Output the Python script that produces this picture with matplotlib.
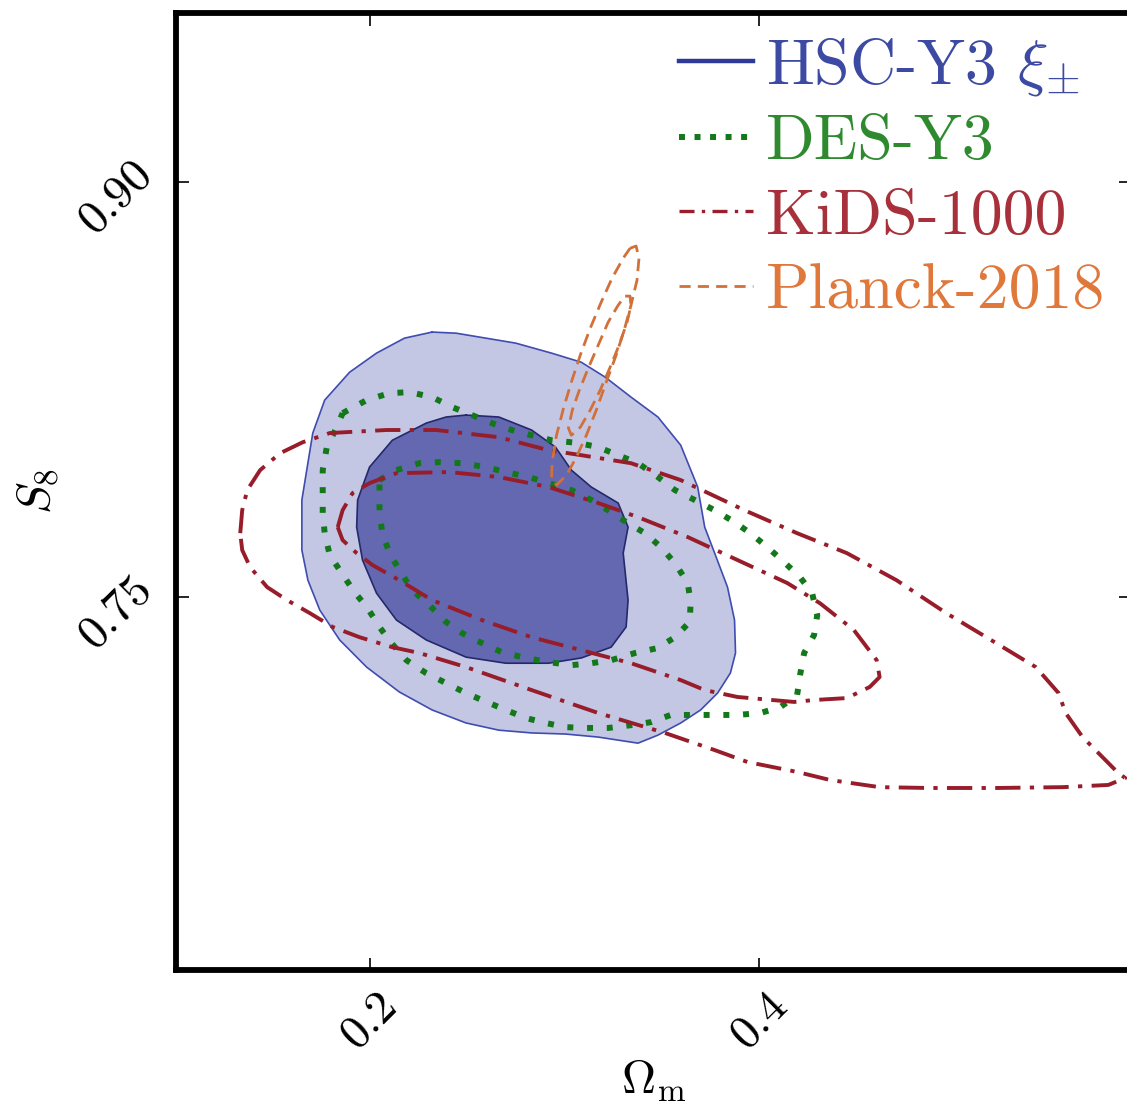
import numpy as np
import matplotlib
matplotlib.use("Agg")
import matplotlib.pyplot as plt
from matplotlib.lines import Line2D

plt.rcParams['font.family'] = 'serif'
plt.rcParams['font.serif'] = ['cmr10', 'DejaVu Serif']
plt.rcParams['mathtext.fontset'] = 'cm'
plt.rcParams['axes.unicode_minus'] = False

# contour outlines: (Omega_m, S8)
hsc_outer_om = [0.2321, 0.2444, 0.2597, 0.2750, 0.2933, 0.3086, 0.3209, 0.3341, 0.3479, 0.3596,
                0.3683, 0.3719, 0.3770, 0.3836, 0.3872, 0.3877, 0.3851, 0.3785, 0.3698, 0.3596,
                0.3479, 0.3377, 0.3275, 0.3173, 0.3005, 0.2831, 0.2663, 0.2495, 0.2321, 0.2153,
                0.1985, 0.1847, 0.1745, 0.1684, 0.1653, 0.1653, 0.1709, 0.1770, 0.1898, 0.2036, 0.2179]
hsc_outer_s8 = [0.8458, 0.8454, 0.8436, 0.8418, 0.8382, 0.8349, 0.8295, 0.8223, 0.8151, 0.8049,
                0.7898, 0.7753, 0.7659, 0.7536, 0.7417, 0.7298, 0.7226, 0.7153, 0.7092, 0.7045,
                0.7001, 0.6972, 0.6983, 0.6994, 0.7005, 0.7009, 0.7019, 0.7045, 0.7092, 0.7157,
                0.7247, 0.7345, 0.7453, 0.7561, 0.7670, 0.7851, 0.8093, 0.8212, 0.8313, 0.8382, 0.8436]

hsc_inner_om = [0.2495, 0.2663, 0.2831, 0.2954, 0.3035, 0.3137, 0.3275, 0.3326, 0.3301, 0.3326,
                0.3316, 0.3239, 0.3086, 0.2918, 0.2699, 0.2495, 0.2291, 0.2138, 0.2036, 0.1964,
                0.1934, 0.1939, 0.2000, 0.2117, 0.2291, 0.2393]
hsc_inner_s8 = [0.8158, 0.8151, 0.8104, 0.8042, 0.7959, 0.7898, 0.7840, 0.7753, 0.7659, 0.7489,
                0.7392, 0.7319, 0.7280, 0.7261, 0.7261, 0.7283, 0.7345, 0.7417, 0.7514, 0.7634,
                0.7753, 0.7851, 0.7970, 0.8067, 0.8129, 0.8151]

des_outer_om = [0.1862, 0.1985, 0.2102, 0.2204, 0.2321, 0.2423, 0.2525, 0.2627, 0.2729, 0.2831,
                0.2933, 0.3071, 0.3173, 0.3275, 0.3377, 0.3479, 0.3566, 0.3668, 0.3770, 0.3872,
                0.3953, 0.4040, 0.4127, 0.4208, 0.4270, 0.4296, 0.4280, 0.4229, 0.4208, 0.4193,
                0.4106, 0.4004, 0.3887, 0.3770, 0.3668, 0.3545, 0.3443, 0.3341, 0.3224, 0.3107,
                0.3005, 0.2903, 0.2801, 0.2699, 0.2576, 0.2495, 0.2393, 0.2291, 0.2189, 0.2112,
                0.2051, 0.1990, 0.1923, 0.1857, 0.1796, 0.1770, 0.1760, 0.1760, 0.1760, 0.1781, 0.1832]
des_outer_s8 = [0.8165, 0.8212, 0.8237, 0.8241, 0.8223, 0.8187, 0.8158, 0.8129, 0.8104, 0.8085,
                0.8067, 0.8057, 0.8042, 0.8013, 0.7984, 0.7934, 0.7887, 0.7851, 0.7814, 0.7771,
                0.7731, 0.7681, 0.7626, 0.7572, 0.7514, 0.7435, 0.7363, 0.7298, 0.7218, 0.7146,
                0.7102, 0.7081, 0.7074, 0.7074, 0.7074, 0.7074, 0.7048, 0.7037, 0.7027, 0.7027,
                0.7030, 0.7045, 0.7063, 0.7092, 0.7128, 0.7153, 0.7189, 0.7225, 0.7272, 0.7334,
                0.7392, 0.7460, 0.7518, 0.7587, 0.7652, 0.7731, 0.7804, 0.7887, 0.7959, 0.8042, 0.8114]

des_inner_om = [0.2051, 0.2138, 0.2255, 0.2357, 0.2474, 0.2597, 0.2699, 0.2816, 0.2918, 0.3035,
                0.3137, 0.3224, 0.3326, 0.3413, 0.3494, 0.3566, 0.3632, 0.3647, 0.3642, 0.3566,
                0.3479, 0.3362, 0.3239, 0.3137, 0.3035, 0.2918, 0.2801, 0.2678, 0.2576, 0.2474,
                0.2393, 0.2306, 0.2219, 0.2153, 0.2102, 0.2066, 0.2051, 0.2051]
des_inner_s8 = [0.7923, 0.7959, 0.7984, 0.7988, 0.7984, 0.7970, 0.7952, 0.7934, 0.7912, 0.7887,
                0.7851, 0.7814, 0.7767, 0.7731, 0.7681, 0.7623, 0.7551, 0.7482, 0.7410, 0.7355,
                0.7316, 0.7298, 0.7272, 0.7261, 0.7254, 0.7265, 0.7280, 0.7301, 0.7334, 0.7370,
                0.7410, 0.7471, 0.7525, 0.7598, 0.7659, 0.7731, 0.7804, 0.7876]

kids_outer_om = [0.1337, 0.1347, 0.1373, 0.1439, 0.1541, 0.1658, 0.1796, 0.2087, 0.2342, 0.2663,
                 0.2918, 0.3086, 0.3341, 0.3596, 0.3923, 0.4193, 0.4448, 0.4703, 0.4958, 0.5213,
                 0.5417, 0.5534, 0.5570, 0.5657, 0.5774, 0.5840, 0.5876, 0.5789, 0.5555, 0.5213,
                 0.4871, 0.4616, 0.4361, 0.4193, 0.3938, 0.3770, 0.3515, 0.3173, 0.2831, 0.2495,
                 0.2255, 0.2117, 0.1949, 0.1811, 0.1694, 0.1577, 0.1475, 0.1388, 0.1347]
kids_outer_s8 = [0.7731, 0.7814, 0.7887, 0.7959, 0.8020, 0.8060, 0.8093, 0.8104, 0.8104, 0.8078,
                 0.8031, 0.8013, 0.7984, 0.7923, 0.7814, 0.7731, 0.7659, 0.7561, 0.7442, 0.7334,
                 0.7247, 0.7153, 0.7081, 0.6994, 0.6911, 0.6864, 0.6846, 0.6821, 0.6813, 0.6810,
                 0.6810, 0.6813, 0.6839, 0.6868, 0.6904, 0.6947, 0.7009, 0.7081, 0.7164, 0.7247,
                 0.7298, 0.7319, 0.7355, 0.7392, 0.7442, 0.7489, 0.7536, 0.7608, 0.7670]

kids_inner_om = [0.1837, 0.1862, 0.1913, 0.2000, 0.2138, 0.2408, 0.2663, 0.2918, 0.3173, 0.3377,
                 0.3632, 0.3887, 0.4142, 0.4310, 0.4484, 0.4601, 0.4616, 0.4565, 0.4448, 0.4280,
                 0.4178, 0.3887, 0.3719, 0.3596, 0.3341, 0.3086, 0.2831, 0.2576, 0.2321, 0.2153,
                 0.2015, 0.1934, 0.1862]
kids_inner_s8 = [0.7753, 0.7814, 0.7876, 0.7912, 0.7948, 0.7952, 0.7934, 0.7898, 0.7840, 0.7789,
                 0.7717, 0.7634, 0.7551, 0.7478, 0.7381, 0.7272, 0.7211, 0.7175, 0.7135, 0.7128,
                 0.7121, 0.7139, 0.7164, 0.7200, 0.7261, 0.7308, 0.7355, 0.7417, 0.7489, 0.7561,
                 0.7616, 0.7659, 0.7706]

planck_outer_om = [0.3336, 0.3367, 0.3382, 0.3372, 0.3341, 0.3306, 0.3265, 0.3214, 0.3163, 0.3112,
                   0.3061, 0.3010, 0.2959, 0.2933, 0.2938, 0.2959, 0.2995, 0.3035, 0.3081, 0.3132,
                   0.3188, 0.3244, 0.3301]
planck_outer_s8 = [0.8761, 0.8769, 0.8725, 0.8646, 0.8555, 0.8465, 0.8375, 0.8277, 0.8176, 0.8085,
                   0.8006, 0.7941, 0.7905, 0.7930, 0.7995, 0.8085, 0.8183, 0.8277, 0.8375, 0.8472,
                   0.8566, 0.8653, 0.8725]

planck_inner_om = [0.3311, 0.3336, 0.3341, 0.3321, 0.3280, 0.3234, 0.3183, 0.3132, 0.3081, 0.3035,
                   0.3020, 0.3040, 0.3076, 0.3122, 0.3173, 0.3224, 0.3275]
planck_inner_s8 = [0.8588, 0.8588, 0.8555, 0.8494, 0.8411, 0.8331, 0.8248, 0.8176, 0.8114, 0.8085,
                   0.8111, 0.8176, 0.8248, 0.8328, 0.8411, 0.8494, 0.8555]

labels = [r'HSC-Y3 $\xi_{\pm}$', 'DES-Y3', 'KiDS-1000', 'Planck-2018']
text_colors = ['#3c4aa3', '#2f8a2f', '#a8303a', '#e0783c']


def closed(a, b):
    return np.append(a, a[0]), np.append(b, b[0])


fig = plt.figure(figsize=(11.27, 11.11), dpi=100)
ax = fig.add_axes([0.1566, 0.1269, 0.8469, 0.8618])

# HSC filled contours
x, y = closed(hsc_outer_om, hsc_outer_s8)
ax.fill(x, y, facecolor='#c4c7e4', edgecolor='none', zorder=1)
ax.plot(x, y, color='#3f4cb0', lw=1.2, zorder=2)
x, y = closed(hsc_inner_om, hsc_inner_s8)
ax.fill(x, y, facecolor='#6468b1', edgecolor='none', zorder=2)
ax.plot(x, y, color='#23296a', lw=1.2, zorder=3)

# DES dotted
des_style = dict(color='#12781a', lw=4.3, dashes=(1.0, 2.3), dash_capstyle='butt', zorder=4)
for om, s8 in [(des_outer_om, des_outer_s8), (des_inner_om, des_inner_s8)]:
    x, y = closed(om, s8)
    ax.plot(x, y, **des_style)

# KiDS dash-dot
kids_style = dict(color='#981d2a', lw=2.8, dashes=(6.5, 2.4, 1.1, 2.4), dash_capstyle='butt', zorder=5)
for om, s8 in [(kids_outer_om, kids_outer_s8), (kids_inner_om, kids_inner_s8)]:
    x, y = closed(om, s8)
    ax.plot(x, y, **kids_style)

# Planck dashed
planck_style = dict(color='#d2703a', lw=2.0, dashes=(4.5, 2.5), zorder=6)
for om, s8 in [(planck_outer_om, planck_outer_s8), (planck_inner_om, planck_inner_s8)]:
    x, y = closed(om, s8)
    ax.plot(x, y, **planck_style)

ax.set_xlim(0.101, 0.5905)
ax.set_ylim(0.6152, 0.9613)

ax.set_xticks([0.2, 0.4])
ax.set_xticklabels(['0.2', '0.4'])
ax.set_yticks([0.75, 0.90])
ax.set_yticklabels(['0.75', '0.90'])
ax.tick_params(direction='in', length=9, width=1.2, top=True, right=True, labelsize=34)
ax.tick_params(axis='x', pad=10)
ax.tick_params(axis='y', pad=12)
for lab in ax.get_xticklabels():
    lab.set_rotation(45)
    lab.set_ha('center')
    lab.set_va('top')
for lab in ax.get_yticklabels():
    lab.set_rotation(45)
    lab.set_rotation_mode('anchor')
    lab.set_ha('right')
    lab.set_va('bottom')

for sp in ax.spines.values():
    sp.set_linewidth(4.2)

ax.set_xlabel(r'$\Omega_{\rm m}$', fontsize=34)
ax.xaxis.set_label_coords(0.5, -0.092)
ax.set_ylabel(r'$S_8$', fontsize=34)
ax.yaxis.set_label_coords(-0.122, 0.5)

handles = [
    Line2D([], [], color='#2e3a98', lw=3.2),
    Line2D([], [], color='#12781a', lw=4.3, dashes=(1.0, 1.6), dash_capstyle='butt'),
    Line2D([], [], color='#9b1e2c', lw=2.4, dashes=(4.5, 2.2, 1, 2.2), dash_capstyle='butt'),
    Line2D([], [], color='#d2703a', lw=2.0, dashes=(4, 2.6)),
]
leg = ax.legend(handles, labels, loc='upper left', bbox_to_anchor=(0.527, 0.976),
                frameon=False, fontsize=46, handlelength=1.15, handletextpad=0.2,
                labelspacing=0.26, borderpad=0, borderaxespad=0)
for t, c in zip(leg.get_texts(), text_colors):
    t.set_color(c)

fig.savefig('out.png', dpi=100)
